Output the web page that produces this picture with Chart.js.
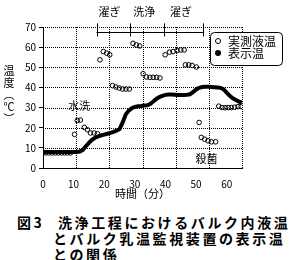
<!DOCTYPE html>
<html>
<head>
<meta charset="utf-8">
<script src="https://cdn.jsdelivr.net/npm/chart.js@4"></script>
<style>
body { margin: 0; background: #fff; }
#wrap { position: relative; width: 290px; height: 260px; font-family: "Noto Sans CJK JP", sans-serif; color: #000; }
#chart { position: absolute; left: 0; top: 0; }
#ytitle { position: absolute; left: 3px; top: 64px; width: 12px; text-align: center; font-size: 11px; line-height: 12px; }
.cap { position: absolute; font-size: 14px; font-weight: bold; letter-spacing: 2.6px; line-height: 16px; white-space: nowrap; }
</style>
</head>
<body>
<div id="wrap">
    <canvas id="chart" width="290" height="205"></canvas>
    <div id="ytitle">温<br>度<br>︵<br>℃<br>︶</div>
    <div class="cap" style="left:17px;top:214px">図3</div>
    <div class="cap" style="left:58px;top:214px">洗浄工程におけるバルク内液温</div>
    <div class="cap" style="left:53px;top:230px">とバルク乳温監視装置の表示温</div>
    <div class="cap" style="left:53px;top:246px">との関係</div>
</div>
<script>
// measured liquid temperature (open circles)
var measTime = [0, 1, 2, 3, 4, 5, 6, 7, 8, 9,
    10.3, 11.2, 12.2, 13.5, 14.5, 15.5, 16.7, 17.8,
    18.6, 19.7, 20.8, 21.8,
    22.7, 23.8, 24.9, 26, 27.1, 28.2,
    29.4, 30.5, 31.6,
    32.7, 33.8, 34.9, 36, 37.1, 38.2,
    39.9, 41.3, 42.5, 43.8, 45, 46.1,
    46.5, 47.6, 48.7, 50.1,
    51, 51.7, 52.8, 53.9, 55, 56.4,
    57.4, 58.5, 59.5, 60.5, 61.5, 62.6, 63.7, 64.7];
var measTemp = [7.5, 7.5, 7.5, 7.5, 7.5, 7.5, 7.5, 7.5, 7.5, 7.5,
    16.7, 23.6, 23.8, 20.2, 19, 17.4, 17.4, 17,
    53.7, 57.8, 57, 56.2,
    40.9, 40.2, 39.7, 39.2, 39.2, 39.2,
    61.9, 61.1, 60.6,
    46.8, 45.2, 45, 45, 45, 44.7,
    56.2, 57.5, 57.8, 58.3, 58.6, 58.6,
    51.2, 51.2, 50.9, 50.1,
    22.6, 15.2, 14.3, 13.5, 13, 13,
    30.7, 30, 29.9, 30, 30, 30.2, 30.5, 30.5];

// temperature shown by the monitor (thick line)
var dispTime = [0, 1, 2, 3, 4, 5, 6, 7, 8, 9, 10, 11, 12, 13, 14, 15, 16, 17, 18, 19,
    20, 21, 22, 23, 24, 25, 26, 27, 28, 29, 30, 31, 32, 33, 34, 35, 36, 37, 38, 39,
    40, 41, 42, 43, 44, 45, 46, 47, 48, 49, 50, 51, 52, 53, 54, 55, 56, 57, 58, 59,
    60, 61, 62, 63, 64, 65];
var dispTemp = [8, 8, 8, 8, 8, 8, 8, 8, 8, 8, 8, 8, 8.2, 9, 10.8, 12.5, 14, 15, 15.7, 16.2,
    16.6, 17, 17.4, 17.9, 18.5, 19.3, 22.5, 26.5, 28.5, 29.7, 30.3, 30.7, 30.8, 31, 31.1, 31.8, 33, 34.3, 35.2, 35.8,
    36.3, 36.5, 36.5, 36.4, 36.3, 36.3, 36.3, 36.4, 36.6, 37.6, 39, 39.8, 40.2, 40.3, 40.3, 40.2, 40.1, 40, 39.8, 39,
    37.4, 35.8, 34.6, 33.8, 33, 32.5];

var xTicks = [0, 10, 20, 30, 40, 50, 60];
var xGrid = [10.8, 21.7, 32.5, 43.3, 54.2, 65];
var seriesNames = ['実測液温', '表示温'];

var phaseNames = ['濯ぎ', '洗浄', '濯ぎ'];
var phaseCenters = [21.7, 33.1, 45.1];
var phaseBounds = [17.5, 28.4, 39.6, 52.3];
var noteNames = ['水洗', '殺菌'];
var noteTime = [11.8, 53.4];
var noteTemp = [30.7, 4.6];

var FONT = '"Noto Sans CJK JP", sans-serif';
Chart.defaults.font.family = FONT;
Chart.defaults.color = '#000';

// dotted grid, 1px on / 1px off
var dotGrid = {
    id: 'dotGrid',
    beforeDatasetsDraw: function (chart) {
        var ctx = chart.ctx, a = chart.chartArea;
        var xs = chart.scales.x, ys = chart.scales.y;
        ctx.save();
        ctx.fillStyle = '#000';
        ys.ticks.forEach(function (t) {
            if (t.value === 0) return;
            var py = Math.round(ys.getPixelForValue(t.value));
            for (var px = Math.round(a.left) + 2; px <= a.right; px += 2) ctx.fillRect(px, py, 1, 1);
        });
        xGrid.forEach(function (v) {
            var px = Math.round(xs.getPixelForValue(v));
            for (var py = Math.round(a.top); py < a.bottom; py += 2) ctx.fillRect(px, py, 1, 1);
        });
        ctx.restore();
    }
};

var overlay = {
    id: 'overlay',
    afterDraw: function (chart) {
        var ctx = chart.ctx;
        var xs = chart.scales.x, ys = chart.scales.y;
        ctx.save();
        ctx.strokeStyle = '#000';
        ctx.fillStyle = '#000';
        ctx.lineWidth = 1;

        // process bracket above the plot
        var by = Math.round(ys.getPixelForValue(67.3)) + 0.5;
        ctx.beginPath();
        ctx.moveTo(xs.getPixelForValue(phaseBounds[0]), by);
        ctx.lineTo(xs.getPixelForValue(phaseBounds[3]), by);
        phaseBounds.forEach(function (b) {
            var px = Math.round(xs.getPixelForValue(b)) + 0.5;
            ctx.moveTo(px, ys.getPixelForValue(65.3));
            ctx.lineTo(px, ys.getPixelForValue(71.8));
        });
        ctx.stroke();

        ctx.textAlign = 'center';
        ctx.textBaseline = 'middle';
        ctx.font = '11px ' + FONT;
        phaseNames.forEach(function (t, i) {
            ctx.fillText(t, xs.getPixelForValue(phaseCenters[i]), ys.getPixelForValue(77.4));
        });
        noteNames.forEach(function (t, i) {
            ctx.fillText(t, xs.getPixelForValue(noteTime[i]), ys.getPixelForValue(noteTemp[i]));
        });

        // legend box
        ctx.beginPath();
        ctx.roundRect(210.5, 32.5, 72, 33, 4);
        ctx.fillStyle = '#fff';
        ctx.fill();
        ctx.stroke();
        ctx.fillStyle = '#000';
        ctx.beginPath();
        ctx.arc(218, 41, 2.5, 0, Math.PI * 2);
        ctx.stroke();
        ctx.beginPath();
        ctx.arc(218, 53, 3, 0, Math.PI * 2);
        ctx.fill();
        ctx.textAlign = 'left';
        ctx.font = '12px ' + FONT;
        ctx.fillText(seriesNames[0], 228, 41);
        ctx.fillText(seriesNames[1], 228, 53);
        ctx.restore();
    }
};

new Chart(document.getElementById('chart'), {
    type: 'scatter',
    data: {
        datasets: [{
            label: seriesNames[1],
            data: dispTime.map(function (t, i) { return { x: t, y: dispTemp[i] }; }),
            showLine: true,
            borderColor: '#000',
            borderWidth: 4,
            pointRadius: 0,
            tension: 0
        }, {
            label: seriesNames[0],
            data: measTime.map(function (t, i) { return { x: t, y: measTemp[i] }; }),
            showLine: false,
            pointRadius: 2.3,
            pointBorderWidth: 1,
            pointBorderColor: '#000',
            pointBackgroundColor: 'rgba(0,0,0,0)'
        }]
    },
    options: {
        responsive: false,
        animation: false,
        layout: { padding: { top: 27, right: 48, left: 0, bottom: 0 } },
        plugins: { legend: { display: false }, tooltip: { enabled: false } },
        scales: {
            x: {
                type: 'linear',
                min: 0,
                max: 65,
                afterBuildTicks: function (scale) {
                    scale.ticks = xTicks.map(function (v) { return { value: v }; });
                },
                afterFit: function (scale) { scale.height = 37; },
                grid: { display: false },
                border: { display: true, color: '#000', width: 1 },
                ticks: { font: { size: 10 }, padding: 2, maxRotation: 0 },
                title: { display: true, text: '時間（分）', font: { size: 11 }, padding: { top: 0, bottom: 5 } }
            },
            y: {
                min: 0,
                max: 70,
                afterFit: function (scale) { scale.width = 43; },
                grid: { color: '#000', drawOnChartArea: false, tickLength: 4 },
                border: { display: true, color: '#000', width: 1 },
                ticks: { stepSize: 10, font: { size: 10 }, padding: 3 }
            }
        }
    },
    plugins: [dotGrid, overlay]
});
</script>
</body>
</html>
